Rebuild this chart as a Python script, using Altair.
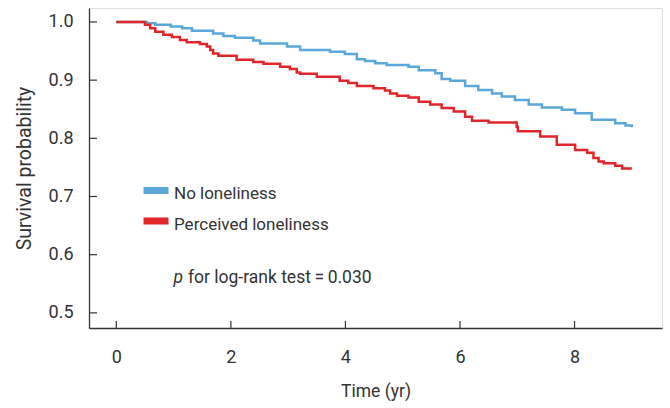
import altair as alt
import pandas as pd

# ---- data ----
blue_t = [0, 0.53, 0.68, 0.95, 1.15, 1.32, 1.69, 1.87, 2.07, 2.39, 2.51, 2.98, 3.21, 3.73,
          3.99, 4.20, 4.34, 4.52, 4.72, 5.10, 5.28, 5.57, 5.68, 5.83, 6.09, 6.32, 6.56,
          6.73, 6.96, 7.20, 7.43, 7.78, 8.01, 8.30, 8.71, 8.89, 9.00]
blue_s = [1.0, 0.998, 0.995, 0.992, 0.989, 0.985, 0.980, 0.976, 0.973, 0.968, 0.963, 0.958,
          0.952, 0.949, 0.945, 0.936, 0.933, 0.929, 0.926, 0.923, 0.917, 0.912, 0.902, 0.899,
          0.890, 0.883, 0.877, 0.872, 0.866, 0.858, 0.853, 0.849, 0.843, 0.832, 0.826, 0.822,
          0.819]
red_t = [0, 0.50, 0.59, 0.68, 0.82, 0.97, 1.11, 1.23, 1.46, 1.58, 1.64, 1.69, 1.78, 2.10,
         2.39, 2.57, 2.86, 3.03, 3.15, 3.21, 3.50, 3.90, 4.05, 4.20, 4.49, 4.69, 4.78, 4.90,
         5.10, 5.28, 5.48, 5.68, 5.89, 6.09, 6.21, 6.50, 6.99, 7.01, 7.40, 7.69, 8.01, 8.22,
         8.33, 8.42, 8.51, 8.71, 8.83, 9.00]
red_s = [1.0, 0.995, 0.989, 0.983, 0.978, 0.974, 0.969, 0.965, 0.962, 0.958, 0.952, 0.946,
         0.942, 0.935, 0.931, 0.928, 0.923, 0.919, 0.913, 0.911, 0.906, 0.899, 0.895, 0.890,
         0.886, 0.882, 0.877, 0.873, 0.870, 0.863, 0.858, 0.852, 0.846, 0.837, 0.830, 0.827,
         0.820, 0.812, 0.803, 0.789, 0.780, 0.775, 0.766, 0.760, 0.757, 0.753, 0.748, 0.748]

groups = ["No loneliness", "Perceived loneliness"]
colors = ["#5BA7DA", "#E0262B"]
x_ticks = [0, 2, 4, 6, 8]
y_ticks = [0.5, 0.6, 0.7, 0.8, 0.9, 1.0]
p_label = "p"
p_rest = "for log-rank test\u2009=\u20090.030"

df = pd.concat([
    pd.DataFrame({"t": blue_t, "s": blue_s, "g": groups[0]}),
    pd.DataFrame({"t": red_t, "s": red_s, "g": groups[1]}),
])

FONT = "Roboto"
TXT = "#333333"
W, H = 573, 320

xs = alt.Scale(domain=[-0.477, 9.527], nice=False, zero=False)
ys = alt.Scale(domain=[0.474, 1.024], nice=False, zero=False)

lines = alt.Chart(df).mark_line(interpolate="step-after", strokeWidth=2.5).encode(
    x=alt.X("t:Q", scale=xs, axis=alt.Axis(
        values=x_ticks, format="d", title="Time (yr)", tickSize=0, labelPadding=20,
        labelFont=FONT, labelFontSize=18, labelColor=TXT, titleFont=FONT,
        titleFontSize=17.5, titleFontWeight="normal", titleColor=TXT, titlePadding=16,
        grid=False, domainColor=TXT, domainWidth=1.3)),
    y=alt.Y("s:Q", scale=ys, axis=alt.Axis(
        values=y_ticks, format=".1f", title="Survival probability", tickSize=0,
        labelPadding=16, labelFont=FONT, labelFontSize=18, labelColor=TXT,
        titleFont=FONT, titleFontSize=19.5, titleFontWeight="normal", titleColor=TXT,
        titlePadding=14, grid=False, domainColor=TXT, domainWidth=1.3)),
    color=alt.Color("g:N", sort=groups, scale=alt.Scale(domain=groups, range=colors),
                    legend=alt.Legend(
                        title=None, orient="none", legendX=51, legendY=170,
                        symbolType="M-1,-0.28L1,-0.28", symbolSize=625,
                        symbolStrokeWidth=7, labelFontSize=17, labelFont=FONT,
                        labelColor=TXT, labelOffset=2, labelLimit=400,
                        rowPadding=1.5, padding=0)),
)

xt = alt.Chart(pd.DataFrame({"v": x_ticks})).mark_rule(color=TXT, strokeWidth=1.2).encode(
    x=alt.X("v:Q", scale=xs), y=alt.value(H - 7), y2=alt.value(H))
yt = alt.Chart(pd.DataFrame({"v": y_ticks})).mark_rule(color=TXT, strokeWidth=1.2).encode(
    y=alt.Y("v:Q", scale=ys), x=alt.value(0), x2=alt.value(8))

ann = pd.DataFrame({"x": [1.0], "y": [0.552], "x2": [1.25]})
pt = alt.Chart(ann).mark_text(align="left", baseline="alphabetic", fontSize=17.5,
                              fontStyle="italic", font=FONT, color=TXT).encode(
    x=alt.X("x:Q", scale=xs), y=alt.Y("y:Q", scale=ys), text=alt.value(p_label))
rt = alt.Chart(ann).mark_text(align="left", baseline="alphabetic", fontSize=17.5,
                              font=FONT, color=TXT).encode(
    x=alt.X("x2:Q", scale=xs), y=alt.Y("y:Q", scale=ys), text=alt.value(p_rest))

chart = alt.layer(lines, xt, yt, pt, rt).properties(
    width=W, height=H,
    autosize=alt.AutoSizeParams(type="none"),
    padding={"left": 89, "top": 8, "right": 8, "bottom": 80},
).configure_view(stroke=None).configure(background="white")

chart.save("out.html", embed_options={"renderer": "svg", "actions": False})
